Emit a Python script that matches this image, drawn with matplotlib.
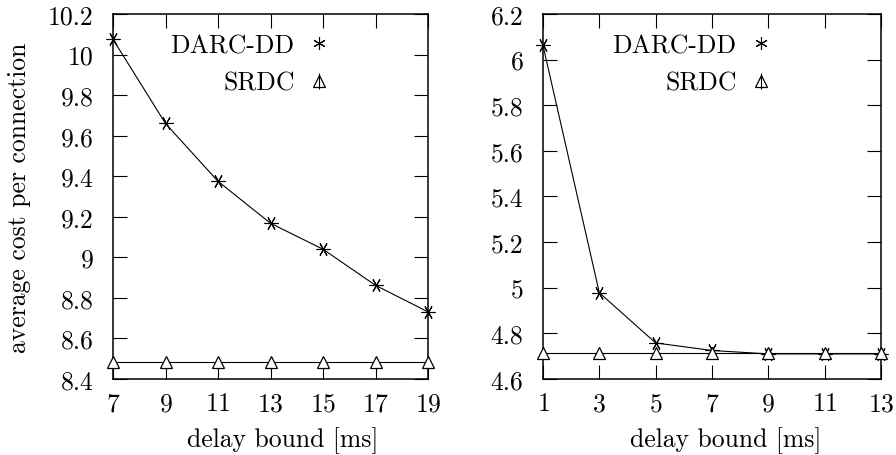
import matplotlib
matplotlib.use("Agg")
import matplotlib.pyplot as plt
from matplotlib.lines import Line2D
from matplotlib.legend_handler import HandlerTuple
from matplotlib.ticker import FixedLocator, FuncFormatter

# Computer Modern look
plt.rcParams['font.family'] = 'serif'
plt.rcParams['font.serif'] = ['cmr10']
plt.rcParams['mathtext.fontset'] = 'cm'
plt.rcParams['axes.formatter.use_mathtext'] = True

# data
delay_left = [7, 9, 11, 13, 15, 17, 19]
darc_left = [10.075, 9.66, 9.375, 9.168, 9.04, 8.862, 8.731]
srdc_left = [8.484, 8.484, 8.484, 8.484, 8.484, 8.484, 8.484]
yticks_left = [8.4, 8.6, 8.8, 9.0, 9.2, 9.4, 9.6, 9.8, 10.0, 10.2]

delay_right = [1, 3, 5, 7, 9, 11, 13]
darc_right = [6.062, 4.978, 4.758, 4.725, 4.71, 4.71, 4.71]
srdc_right = [4.713, 4.713, 4.713, 4.713, 4.713, 4.713, 4.713]
yticks_right = [4.6, 4.8, 5.0, 5.2, 5.4, 5.6, 5.8, 6.0, 6.2]

FS = 18.5
ast_data = (6, 2, 90)
ast_leg = (6, 2, 0)

fig = plt.figure(figsize=(8.96, 4.56), dpi=100)
ax1 = fig.add_axes([113 / 896, 76 / 456, 315 / 896, 365 / 456])
ax2 = fig.add_axes([543 / 896, 76 / 456, 338 / 896, 365 / 456])


def draw(ax, x, darc, srdc, yticks, leg_x):
    ax.plot(x, darc, color='black', lw=0.8, marker=ast_data, ms=10,
            mew=0.8, clip_on=False, zorder=3)
    ax.plot(x, srdc, color='black', lw=0.8, marker='^', ms=9,
            mfc='white', mec='black', mew=0.9, clip_on=False, zorder=3)
    ax.set_xlim(x[0], x[-1])
    ax.set_ylim(yticks[0], yticks[-1])
    ax.xaxis.set_major_locator(FixedLocator(x))
    ax.yaxis.set_major_locator(FixedLocator(yticks))
    ax.yaxis.set_major_formatter(FuncFormatter(lambda v, p: '%g' % round(v, 2)))
    ax.tick_params(direction='in', length=10, width=0.8, top=True, right=True,
                   labelsize=FS)
    ax.tick_params(axis='y', pad=14)
    ax.tick_params(axis='x', pad=9)
    for s in ax.spines.values():
        s.set_linewidth(1.1)
    ax.set_xlabel('delay bound [ms]', fontsize=FS)
    ax.xaxis.set_label_coords(0.54, -0.13)
    star = Line2D([], [], ls='none', marker=ast_leg, ms=9, color='black', mew=0.8)
    tri = Line2D([], [], ls='none', marker='^', ms=8, mfc='white', mec='black', mew=0.9)
    stem = Line2D([], [], ls='none', marker='|', ms=11, color='black', mew=0.8)
    ax.legend([star, (tri, stem)], ['DARC-DD', 'SRDC'], loc='upper right',
              bbox_to_anchor=(leg_x, 0.946), frameon=False, markerfirst=False,
              fontsize=FS, handlelength=1.0, handletextpad=0.45,
              labelspacing=0.53, borderaxespad=0.0, borderpad=0.0,
              handler_map={tuple: HandlerTuple(ndivide=1)})


draw(ax1, delay_left, darc_left, srdc_left, yticks_left, 0.695)
draw(ax2, delay_right, darc_right, srdc_right, yticks_right, 0.683)
ax1.set_ylabel('average cost per connection', fontsize=FS)
ax1.yaxis.set_label_coords(-0.26, 0.5)

fig.savefig('out.png', dpi=100)
